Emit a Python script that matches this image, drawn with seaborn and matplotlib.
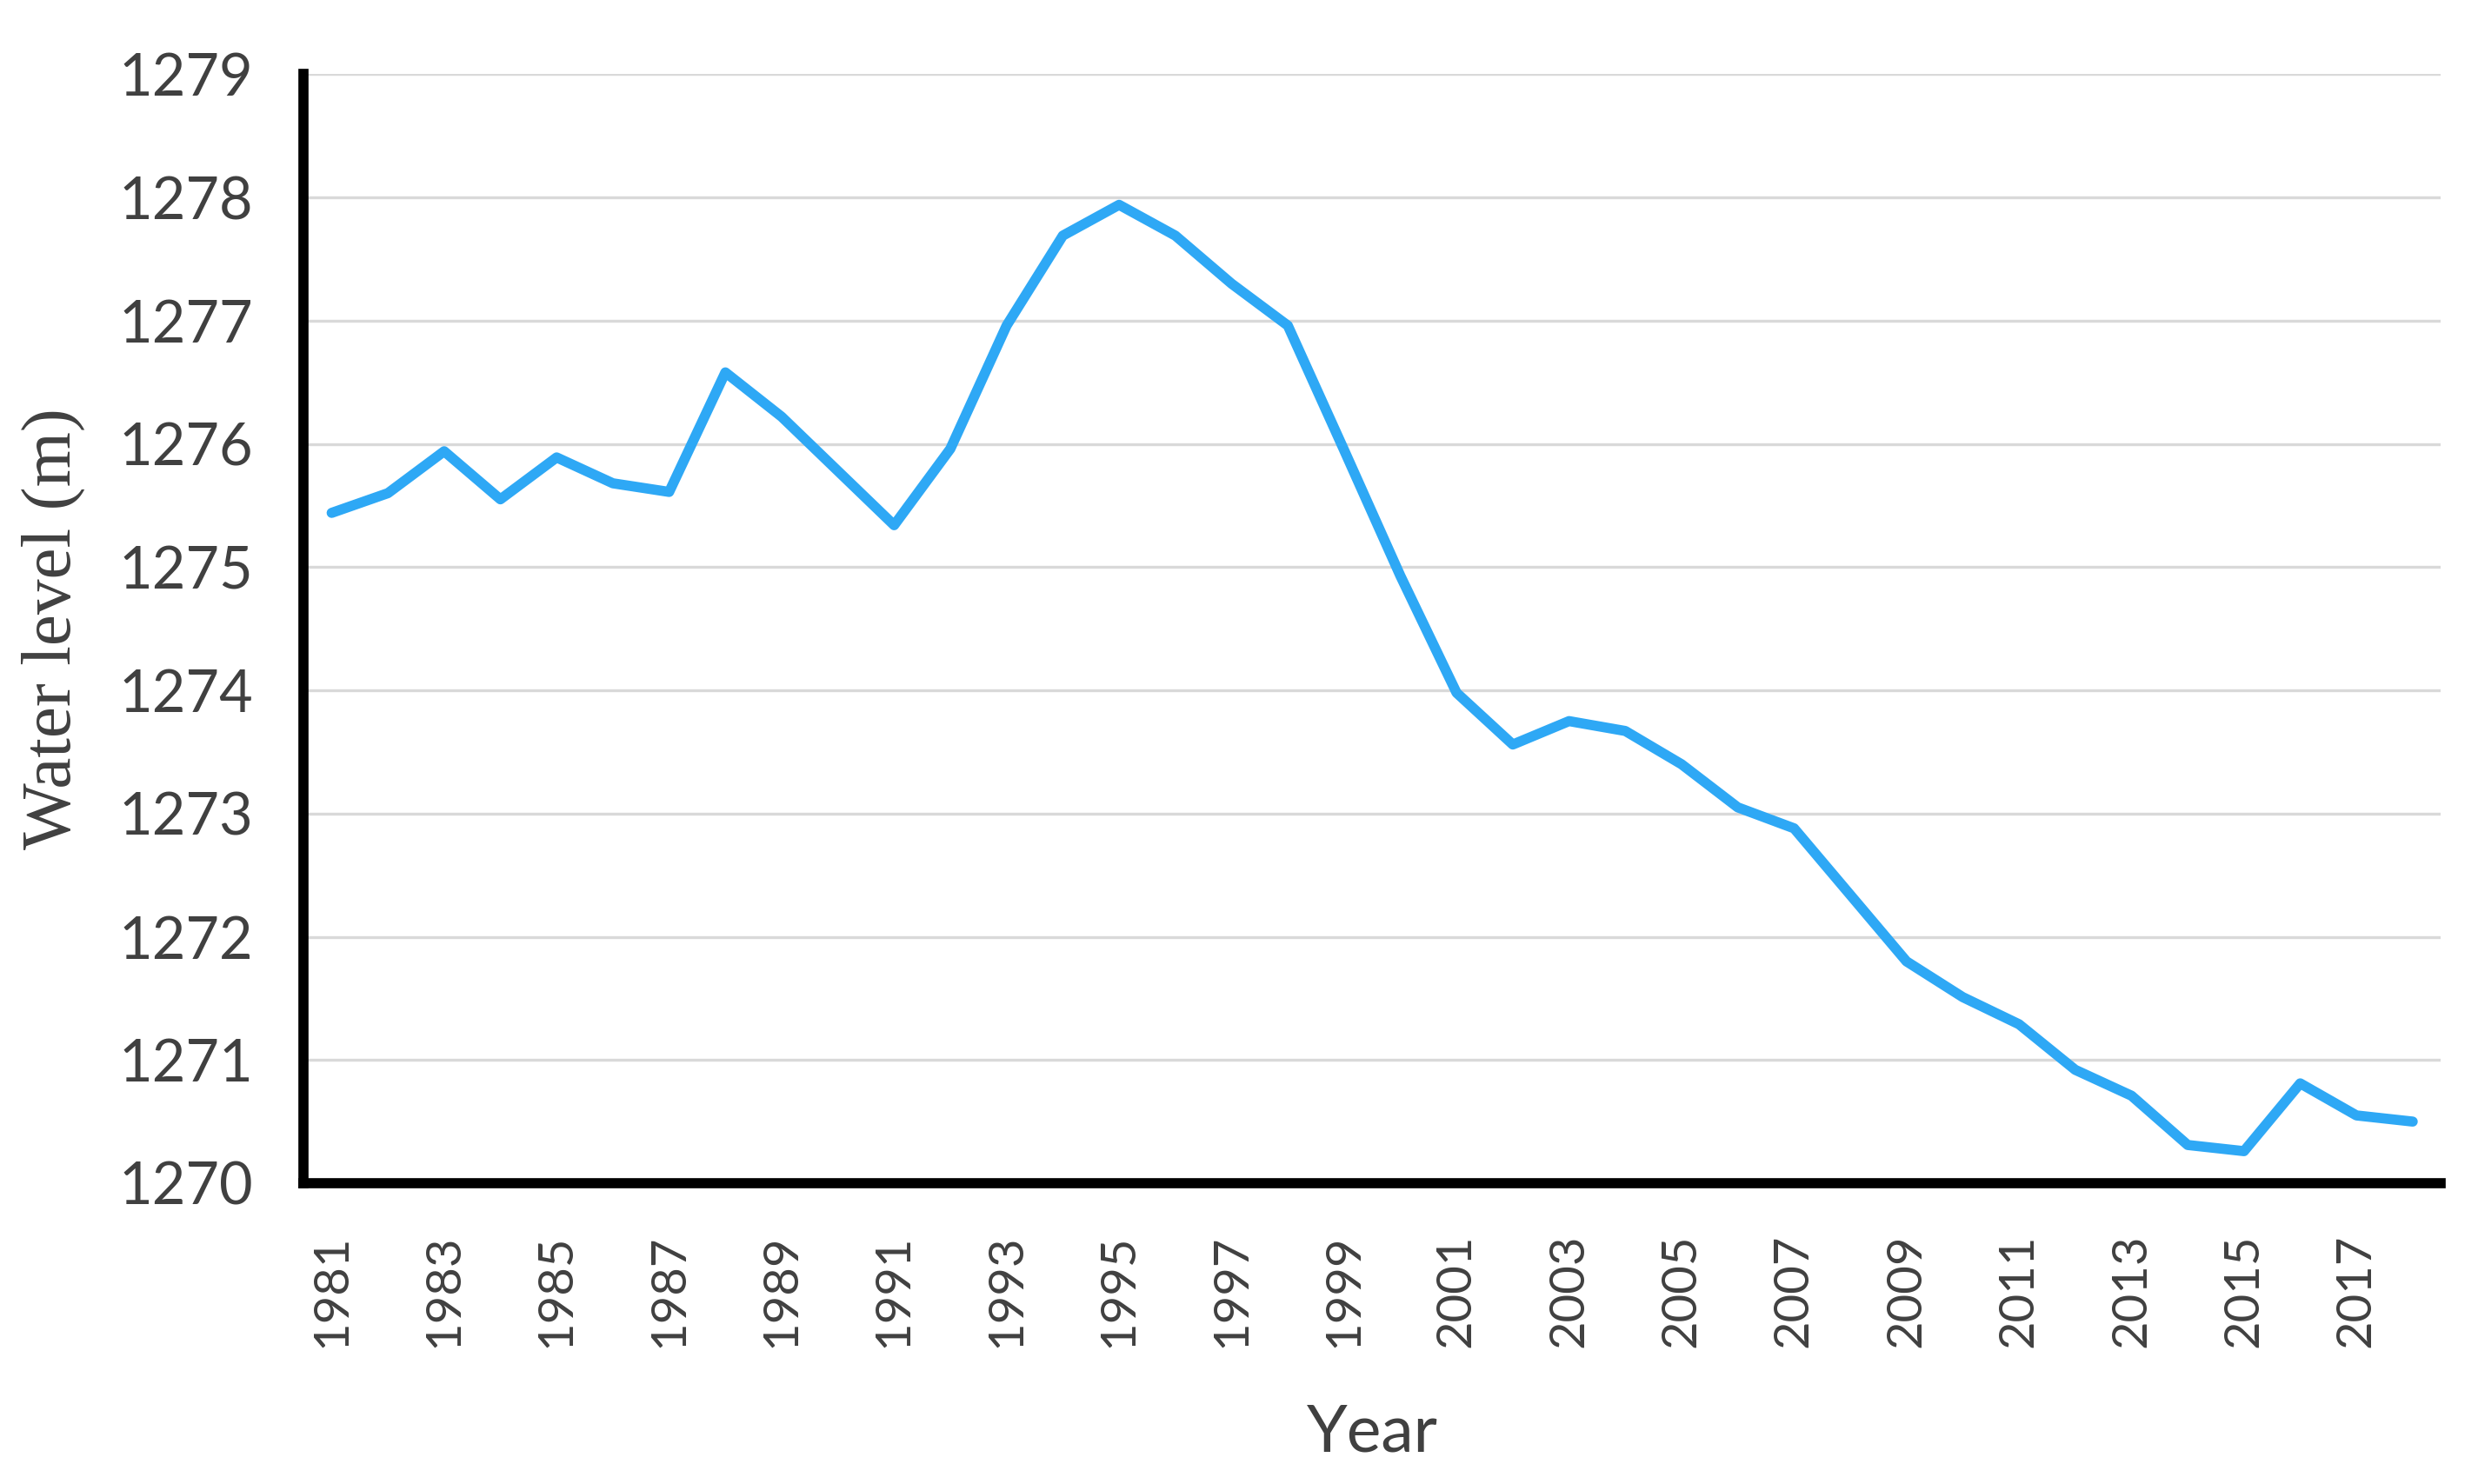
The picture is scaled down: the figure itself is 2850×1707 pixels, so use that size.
import numpy as np
import pandas as pd
import matplotlib
matplotlib.use("Agg")
import matplotlib.pyplot as plt
import seaborn as sns

# ---- data ----
years = list(range(1981, 2019))
water_level = [
    1275.44, 1275.60, 1275.94, 1275.55, 1275.89, 1275.68, 1275.61, 1276.58,
    1276.22, 1275.78, 1275.34, 1275.96, 1276.96, 1277.69, 1277.94, 1277.69,
    1277.30, 1276.96, 1275.95, 1274.93, 1273.98, 1273.56, 1273.75, 1273.67,
    1273.40, 1273.05, 1272.88, 1272.34, 1271.80, 1271.51, 1271.29, 1270.92,
    1270.71, 1270.31, 1270.26, 1270.81, 1270.55, 1270.50,
]
tick_years = list(range(1981, 2018, 2))
y_ticks = list(range(1270, 1280))

df = pd.DataFrame({"Year": years, "Water level": water_level})

sns.set_theme(style="white")
plt.rcParams['font.family'] = ['Lato', 'DejaVu Sans']

fig = plt.figure(figsize=(9.5, 5.69), dpi=300)
ax = fig.add_axes([0.1225, 0.2027, 0.985 - 0.1225, 0.950 - 0.2027])

sns.lineplot(data=df, x="Year", y="Water level", ax=ax, color="#2EA8F5",
             linewidth=2.8, solid_capstyle="round", solid_joinstyle="round")

ax.set_xlim(1980.5, 2018.5)
ax.set_ylim(1270, 1279)
ax.set_xticks(tick_years)
ax.set_xticklabels([str(y) for y in tick_years], rotation=90)
ax.set_yticks(y_ticks)

ax.yaxis.grid(True, color="#D9D9D9", linewidth=0.8)
ax.xaxis.grid(False)
ax.set_axisbelow(True)

for side in ["top", "right"]:
    ax.spines[side].set_visible(False)
for side in ["left", "bottom"]:
    ax.spines[side].set_color("black")
    ax.spines[side].set_linewidth(2.8)

ax.tick_params(axis="y", length=0, pad=14, labelsize=16, labelcolor="#404040")
ax.tick_params(axis="x", length=0, pad=14, labelsize=13.5, labelcolor="#404040")

ax.set_ylabel("Water level (m)", family=["Liberation Serif", "DejaVu Serif"],
              fontsize=19.5, color="#404040")
ax.yaxis.set_label_coords(-0.102, 0.5)
ax.set_xlabel("Year", fontsize=18, color="#404040")
ax.xaxis.set_label_coords(0.5, -0.198)

fig.savefig("out.png", dpi=300)
